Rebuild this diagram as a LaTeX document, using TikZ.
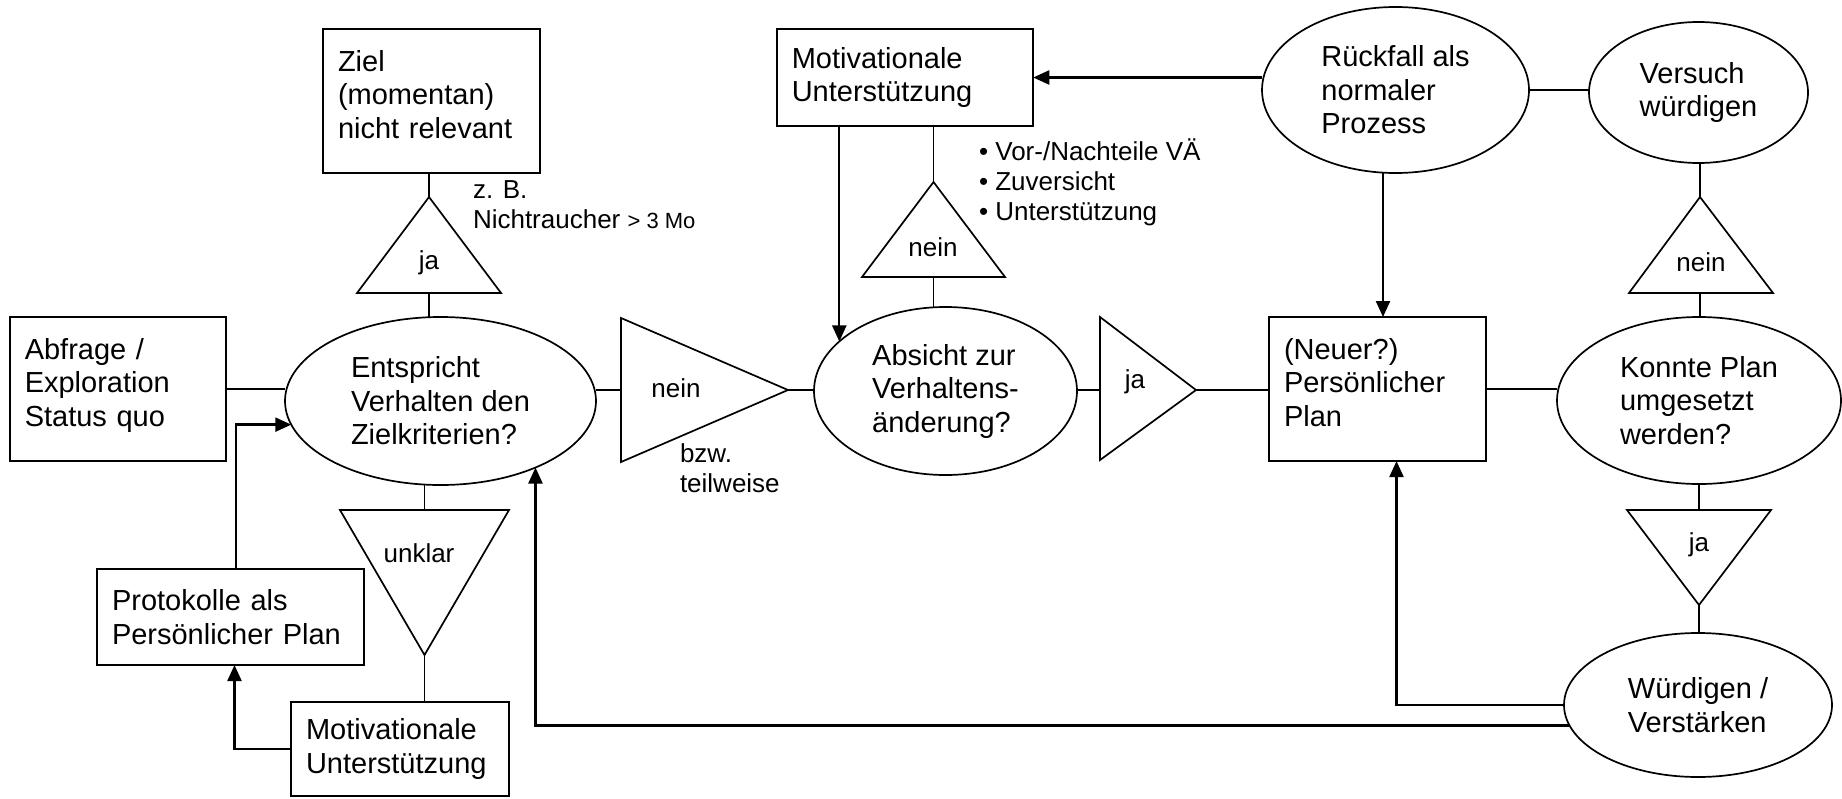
\documentclass[tikz,border=0pt]{standalone}
\usepackage{fontspec}
\setmainfont{Liberation Sans}
\usetikzlibrary{shapes.geometric,arrows.meta,calc}
\begin{document}
\begin{tikzpicture}[x=1pt,y=-1pt,
  every node/.style={inner sep=0pt, outer sep=0pt},
  txt/.style={font=\fontsize{29}{33.5}\selectfont},
  sm/.style={font=\fontsize{26}{30}\selectfont},
  boxn/.style={txt, draw, line width=1.7pt, rectangle, align=left, inner xsep=15pt, inner ysep=4pt},
  raised/.style={execute at end node={\rule[-14pt]{0pt}{0pt}}},
  elln/.style={txt, draw, line width=1.7pt, ellipse, align=left},
  tri/.style={draw, line width=1.7pt, line join=miter},
  conn/.style={line width=1.5pt},
  arr/.style={line width=2.3pt, -{Triangle[length=16pt,width=14pt]}},
]
\useasboundingbox (0,0) rectangle (1842,798);

% boxes
\node[boxn, raised, text width=187pt, minimum height=144pt] (zie) at (431.5,101) {Ziel\\(momentan)\\nicht relevant};
\node[boxn, raised, text width=186.5pt, minimum height=144pt] (abf) at (118,389) {Abfrage /\\Exploration\\Status quo};
\node[boxn, text width=237pt, minimum height=96pt] (pro) at (230.5,617) {Protokolle als\\Persönlicher Plan};
\node[boxn, text width=188pt, minimum height=94pt] (motb) at (400,749) {Motivationale\\Unterstützung};
\node[boxn, text width=226.5pt, minimum height=97pt] (mott) at (905,77.5) {Motivationale\\Unterstützung};
\node[boxn, raised, text width=187pt, minimum height=144pt] (plan) at (1377.5,389) {(Neuer?)\\Persönlicher\\Plan};

% ellipses
\node[elln, minimum width=311pt, minimum height=168pt] (ent) at (440.5,401) {Entspricht\\Verhalten den\\Zielkriterien?};
\node[elln, minimum width=263pt, minimum height=168pt] (abs) at (945.5,391) {Absicht zur\\Verhaltens-\\änderung?};
\node[elln, minimum width=267pt, minimum height=166pt] (rue) at (1395.5,90) {Rückfall als\\normaler\\Prozess};
\node[elln, minimum width=219pt, minimum height=141pt] (ver) at (1698.5,92.5) {Versuch\\würdigen};
\node[elln, minimum width=284pt, minimum height=167pt] (kon) at (1699,400.5) {Konnte Plan\\umgesetzt\\werden?};
\node[elln, minimum width=268pt, minimum height=144pt] (wue) at (1698,705) {Würdigen /\\Verstärken};

% triangles
\coordinate (t1a) at (429,197); \coordinate (t1l) at (357,293); \coordinate (t1r) at (501,293); \coordinate (t1m) at (429,293);
\draw[tri] (t1a) -- (t1l) -- (t1r) -- cycle;
\node[sm] (t1t) at (429,263) {ja};

\coordinate (t2l) at (340,510); \coordinate (t2r) at (509,510); \coordinate (t2a) at (424.5,655); \coordinate (t2m) at (424.5,510);
\draw[tri] (t2l) -- (t2r) -- (t2a) -- cycle;
\node[sm] (t2t) at (419,553) {unklar};

\coordinate (t3u) at (621,318); \coordinate (t3d) at (621,462); \coordinate (t3a) at (788,390); \coordinate (t3m) at (621,390);
\draw[tri] (t3u) -- (t3a) -- (t3d) -- cycle;
\node[sm] (t3t) at (676,388) {nein};

\coordinate (t4u) at (1100,317); \coordinate (t4d) at (1100,460); \coordinate (t4a) at (1196,390); \coordinate (t4m) at (1100,390);
\draw[tri] (t4u) -- (t4a) -- (t4d) -- cycle;
\node[sm] (t4t) at (1135,382) {ja};

\coordinate (t5a) at (1700,197); \coordinate (t5l) at (1629,293); \coordinate (t5r) at (1773,293); \coordinate (t5m) at (1700,293);
\draw[tri] (t5a) -- (t5l) -- (t5r) -- cycle;
\node[sm] (t5t) at (1701,262) {nein};

\coordinate (t6l) at (1627,510); \coordinate (t6r) at (1771,510); \coordinate (t6a) at (1699,605); \coordinate (t6m) at (1699,510);
\draw[tri] (t6l) -- (t6r) -- (t6a) -- cycle;
\node[sm] (t6t) at (1699,545) {ja};

\coordinate (t7a) at (933.5,182); \coordinate (t7l) at (862,277); \coordinate (t7r) at (1005,277); \coordinate (t7m) at (933.5,277);
\draw[tri] (t7a) -- (t7l) -- (t7r) -- cycle;
\node[sm] (t7t) at (933,247) {nein};

% connectors
\draw[conn] (t1a) -- (t1a |- zie.south);
\draw[conn] (t1m) -- (t1m |- ent.north);
\draw[conn] (abf.east) -- (abf.east -| ent.west);
\draw[conn] (t2m) -- (t2m |- ent.south);
\draw[conn] (t2a) -- (t2a |- motb.north);
\draw[arr] (motb.west) -| ([xshift=4pt]pro.south);
\draw[arr] ([xshift=5.5pt]pro.north) |- (ent.189.6);
\draw[conn] (t3m) -- (t3m -| ent.east);
\draw[conn] (t3a) -- (t3a -| abs.west);
\draw[conn] (t4m) -- (t4m -| abs.east);
\draw[conn] (t4a) -- (t4a -| plan.west);
\draw[arr] (mott.east -| rue.west) -- (mott.east);
\draw[arr] (abs.155.8 |- mott.south) -- (abs.155.8);
\draw[conn] (t7a |- mott.south) -- (t7a);
\draw[conn] (t7m) -- (t7m |- abs.north);
\draw[conn] (rue.east) -- (rue.east -| ver.west);
\draw[arr] ([xshift=-12.5pt]rue.south) -- ([xshift=-12.5pt]rue.south |- plan.north);
\draw[conn] (t5a) -- (t5a |- ver.south);
\draw[conn] (t5m) -- (t5m |- kon.north);
\draw[conn] (plan.east) -- (plan.east -| kon.west);
\draw[conn] (t6m) -- (t6m |- kon.south);
\draw[conn] (t6a) -- (t6a |- wue.north);
\draw[arr] (wue.west) -| ([xshift=19pt]plan.south);
\draw[arr] (wue.189.3) -| (ent.-35.6);

% free labels
\node[sm, anchor=north west, align=left] (zb) at (473,181) {z. B.\\Nichtraucher {\fontsize{22}{26}\selectfont > 3 Mo}};
\node[sm, anchor=north west, align=left] (bzw) at (680,444) {bzw.\\teilweise};
\node[sm, anchor=north west, align=left] (bul) at (979,139) {• Vor-/Nachteile VÄ\\• Zuversicht\\• Unterstützung};
\end{tikzpicture}
\end{document}
